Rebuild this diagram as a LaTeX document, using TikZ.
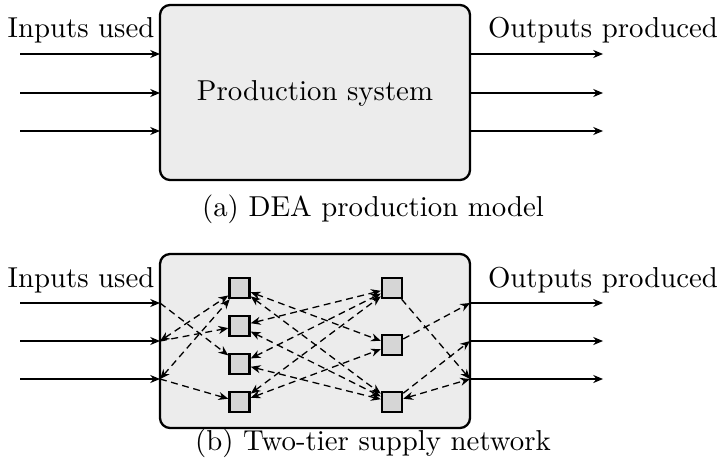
\documentclass[tikz,border=0pt]{standalone}
\usetikzlibrary{arrows.meta}
\definecolor{boxfill}{RGB}{236,236,236}
\definecolor{sqfill}{RGB}{214,214,214}
\tikzset{
  sysbox/.style={draw, line width=0.8pt, fill=boxfill, rounded corners=3.5pt},
  sq/.style={draw, line width=0.8pt, fill=sqfill, minimum size=7pt, inner sep=0pt},
  tip/.tip={Stealth[length=3.4pt,width=2.8pt]},
  flow/.style={line width=0.45pt, -tip},
  dflow/.style={line width=0.45pt, dash pattern=on 2.4pt off 1.6pt, -tip},
  bflow/.style={line width=0.45pt, dash pattern=on 2.4pt off 1.6pt, tip-tip},
  lbl/.style={anchor=base, inner sep=0pt},
  captext/.style={lbl}
}
\begin{document}
\begin{tikzpicture}[x=0.3472pt, y=-0.3472pt]
\useasboundingbox (0,0) rectangle (721,473);

% ---------- (a) DEA production model ----------
\draw[sysbox] (160,5) rectangle (470,180);
\node[lbl] (prod) at (315,100) {Production system};
\node[lbl] (inA) at (81,38) {Inputs used};
\node[lbl] (outA) at (603,38) {Outputs produced};
\foreach \i/\y in {1/54,2/93,3/131} {
  \coordinate (ais\i) at (20,\y);
  \coordinate (aie\i) at (160,\y);
  \coordinate (aos\i) at (470,\y);
  \coordinate (aoe\i) at (603,\y);
  \draw[flow] (ais\i) -- (aie\i);
  \draw[flow] (aos\i) -- (aoe\i);
}
\node[captext] (capA) at (373,216) {(a) DEA production model};

% ---------- (b) Two-tier supply network ----------
\draw[sysbox] (160,254) rectangle (470,428);
\node[lbl] (inB) at (81,287) {Inputs used};
\node[lbl] (outB) at (603,287) {Outputs produced};
\foreach \i/\y in {1/303,2/341,3/379} {
  \coordinate (bis\i) at (20,\y);
  \coordinate (I\i) at (160,\y);
  \coordinate (O\i) at (470,\y);
  \coordinate (boe\i) at (603,\y);
  \draw[flow] (bis\i) -- (I\i);
  \draw[flow] (O\i) -- (boe\i);
}
% tier 1
\node[sq] (A1) at (239.5,288) {};
\node[sq] (A2) at (239.5,326) {};
\node[sq] (A3) at (239.5,364) {};
\node[sq] (A4) at (239.5,402) {};
% tier 2
\node[sq] (B1) at (392,288) {};
\node[sq] (B2) at (392,345) {};
\node[sq] (B3) at (392,402) {};

% inputs -> tier 1
\draw[dflow] (I1) -- (A3);
\draw[bflow] (I2) -- (A1);
\draw[dflow] (I2) -- (A2);
\draw[bflow] (I3) -- (A1);
\draw[dflow] (I3) -- (A4);
% tier 1 -> tier 2
\draw[bflow] (A1) -- (B2);
\draw[bflow] (A1) -- (B3);
\draw[bflow] (A2) -- (B1);
\draw[bflow] (A2) -- (B3);
\draw[bflow] (A3) -- (B1);
\draw[bflow] (A3) -- (B3);
\draw[bflow] (A4) -- (B1);
\draw[bflow] (A4) -- (B2);
% tier 2 -> outputs
\draw[dflow] (B1) -- (O3);
\draw[dflow] (B2) -- (O1);
\draw[dflow] (B3) -- (O2);
\draw[bflow] (B3) -- (O3);

\node[captext] (capB) at (373,450) {(b) Two-tier supply network};
\end{tikzpicture}
\end{document}
